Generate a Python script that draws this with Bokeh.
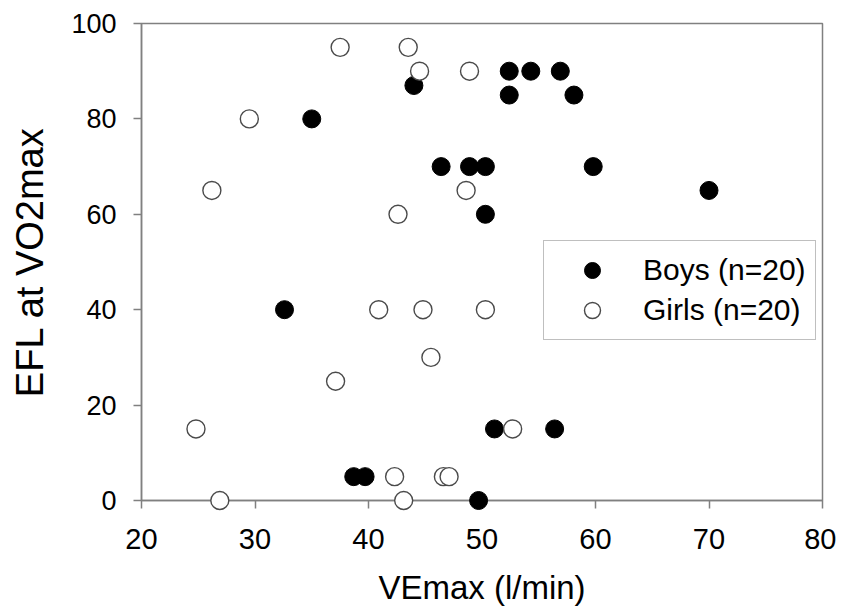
from bokeh.plotting import figure
from bokeh.models import ColumnDataSource, Legend, LegendItem, FixedTicker
from bokeh.embed import file_html
from bokeh.resources import INLINE

# Data
boys_ve = [44.0, 35.0, 46.4, 48.9, 50.3, 52.4, 54.3, 56.9, 52.4, 58.1,
           59.8, 70.0, 50.3, 32.6, 38.7, 39.7, 49.7, 51.1, 56.4]
boys_efl = [87, 80, 70, 70, 70, 90, 90, 90, 85, 85,
            70, 65, 60, 40, 5, 5, 0, 15, 15]
girls_ve = [37.5, 43.5, 44.5, 48.9, 29.5, 26.2, 48.6, 42.6, 40.9, 44.8,
            50.3, 45.5, 37.1, 24.8, 52.7, 42.3, 46.6, 47.1, 26.9, 43.1]
girls_efl = [95, 95, 90, 90, 80, 65, 65, 60, 40, 40,
             40, 30, 25, 15, 15, 5, 5, 5, 0, 0]
x_ticks = [20, 30, 40, 50, 60, 70, 80]
y_ticks = [0, 20, 40, 60, 80, 100]
boys_label = "Boys (n=20)"
girls_label = "Girls (n=20)"
x_title = "VEmax (l/min)"
y_title = "EFL at VO2max"

FONT = "Liberation Sans"
GREY = "#808080"

p = figure(width=836, height=608, x_range=(20, 80), y_range=(0, 100),
           output_backend="svg", toolbar_location=None,
           min_border_left=141, min_border_right=14,
           min_border_top=23, min_border_bottom=107)
p.grid.visible = False
p.outline_line_color = GREY
p.outline_line_width = 1.5
p.background_fill_color = "white"
p.border_fill_color = "white"

boys_src = ColumnDataSource(dict(x=boys_ve, y=boys_efl))
girls_src = ColumnDataSource(dict(x=girls_ve, y=girls_efl))

r_boys = p.scatter("x", "y", source=boys_src, size=18, marker="circle",
                   fill_color="black", line_color="black", line_width=1,
                   level="overlay")
r_girls = p.scatter("x", "y", source=girls_src, size=18, marker="circle",
                    fill_color="white", line_color="#4a4a4a", line_width=1.4,
                    level="overlay")

for ax in (p.xaxis[0], p.yaxis[0]):
    ax.axis_line_color = GREY
    ax.axis_line_width = 1.5
    ax.major_tick_line_color = GREY
    ax.major_tick_line_width = 1.5
    ax.major_tick_out = 8
    ax.major_tick_in = 0
    ax.minor_tick_line_color = None
    ax.major_label_text_font = FONT
    ax.major_label_text_color = "black"
    ax.axis_label_text_font = FONT
    ax.axis_label_text_font_style = "normal"
    ax.axis_label_text_color = "black"

p.xaxis[0].ticker = FixedTicker(ticks=x_ticks)
p.yaxis[0].ticker = FixedTicker(ticks=y_ticks)
p.xaxis[0].major_label_text_font_size = "29px"
p.yaxis[0].major_label_text_font_size = "27px"
p.xaxis[0].axis_label = x_title
p.yaxis[0].axis_label = y_title
p.xaxis[0].axis_label_text_font_size = "33px"
p.yaxis[0].axis_label_text_font_size = "38px"
p.xaxis[0].major_label_standoff = 20
p.yaxis[0].major_label_standoff = 17
p.xaxis[0].axis_label_standoff = 17
p.yaxis[0].axis_label_standoff = 17

legend = Legend(items=[LegendItem(label=boys_label, renderers=[r_boys]),
                       LegendItem(label=girls_label, renderers=[r_girls])],
                location=(402, 160), margin=0, padding=9,
                glyph_width=78, glyph_height=40, spacing=0,
                label_standoff=12, label_text_font=FONT,
                label_text_font_size="30px", label_text_color="black",
                label_height=40,
                border_line_color=GREY, border_line_width=1.5,
                background_fill_color="white", background_fill_alpha=1.0)
p.add_layout(legend, "center")

open("out.html", "w").write(file_html(p, INLINE))
